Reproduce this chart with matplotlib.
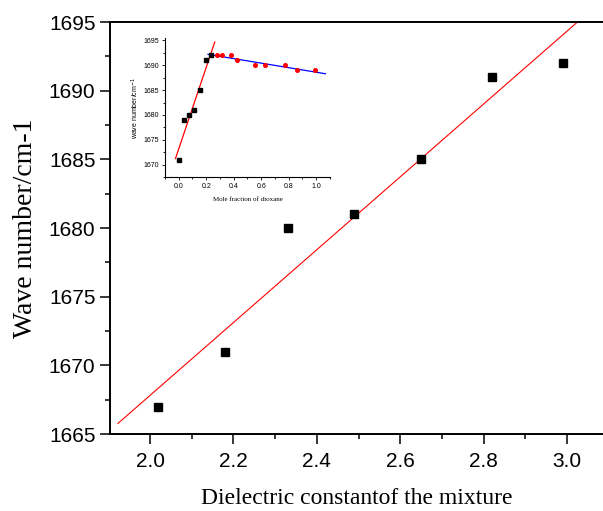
import numpy as np
import matplotlib
matplotlib.use("Agg")
import matplotlib.pyplot as plt
from matplotlib.ticker import MultipleLocator

# Main data
dielectric = [2.02, 2.18, 2.33, 2.49, 2.65, 2.82, 2.99]
wavenumber = [1667, 1671, 1680, 1681, 1685, 1691, 1692]

# Inset data
mole_frac_black = [0.0, 0.036, 0.073, 0.114, 0.153, 0.199, 0.238]
wn_black = [1671, 1679, 1680, 1681, 1685, 1691, 1692]
mole_frac_red = [0.281, 0.315, 0.383, 0.424, 0.553, 0.63, 0.776, 0.861, 0.989]
wn_red = [1692, 1692, 1692, 1691, 1690, 1690, 1690, 1689, 1689]
# inset fit lines
red_fit_x = [-0.024, 0.262]
red_fit_y = [1671.2, 1694.7]
blue_fit_x = [0.213, 1.067]
blue_fit_y = [1692.2, 1688.3]

W, H = 603, 511
fig = plt.figure(figsize=(W / 100, H / 100), dpi=100)

sans = ["Liberation Sans", "DejaVu Sans"]
serif = ["Liberation Serif", "DejaVu Serif"]

ax = fig.add_axes([110 / W, (H - 434) / H, (W - 110) / W, 412 / H])
ax.plot(dielectric, wavenumber, ls="none", marker="s", ms=5.8, color="black", zorder=3)
# linear fit through the main data
slope, intercept = np.polyfit(dielectric, wavenumber, 1)
fx = np.array([1.923, 3.09])
ax.plot(fx, slope * fx + intercept, color="red", lw=0.8, zorder=2)

ax.set_xlim(1.904, 3.086)
ax.set_ylim(1665, 1695)
ax.xaxis.set_major_locator(MultipleLocator(0.2))
ax.xaxis.set_minor_locator(MultipleLocator(0.1))
ax.yaxis.set_major_locator(MultipleLocator(5))
ax.yaxis.set_minor_locator(MultipleLocator(2.5))
ax.spines["right"].set_visible(False)
for s in ["left", "bottom", "top"]:
    ax.spines[s].set_linewidth(1.4)
ax.tick_params(which="major", direction="out", length=7, width=1.1, labelsize=15)
ax.tick_params(axis="x", which="major", pad=6)
ax.tick_params(axis="y", which="major", pad=3.5)
ax.tick_params(which="minor", direction="out", length=3.6, width=1.1)
ax.tick_params(top=False, right=False, which="both")
for lbl in ax.get_xticklabels() + ax.get_yticklabels():
    lbl.set_fontfamily(sans)
ax.set_xlabel("Dielectric constantof the mixture", fontfamily=serif, fontsize=17, labelpad=12)
ax.set_ylabel("Wave number/cm-1", fontfamily=serif, fontsize=20, labelpad=8)

# Inset
axi = fig.add_axes([165 / W, (H - 177) / H, 165 / W, 139 / H])
axi.plot(mole_frac_black, wn_black, ls="none", marker="s", ms=2.4, color="black", zorder=3)
axi.plot(mole_frac_red, wn_red, ls="none", marker="o", ms=2.6, color="red", zorder=3)
axi.plot(red_fit_x, red_fit_y, color="red", lw=0.9, zorder=2)
axi.plot(blue_fit_x, blue_fit_y, color="blue", lw=0.9, zorder=2)
axi.set_xlim(-0.1, 1.1)
axi.set_ylim(1667.5, 1695.5)
axi.xaxis.set_major_locator(MultipleLocator(0.2))
axi.xaxis.set_minor_locator(MultipleLocator(0.1))
axi.yaxis.set_major_locator(MultipleLocator(5))
axi.yaxis.set_minor_locator(MultipleLocator(2.5))
axi.spines["right"].set_visible(False)
axi.spines["top"].set_visible(False)
for s in ["left", "bottom"]:
    axi.spines[s].set_linewidth(0.8)
axi.tick_params(which="major", direction="out", length=2.5, width=0.6, labelsize=5, pad=1.5)
axi.tick_params(which="minor", direction="out", length=1.3, width=0.6)
for lbl in axi.get_xticklabels() + axi.get_yticklabels():
    lbl.set_fontfamily(sans)
axi.set_xlabel("Mole fraction of dioxane", fontfamily=serif, fontsize=5, labelpad=5)
axi.set_ylabel("wave number/cm$^{-1}$", fontfamily=sans, fontsize=5, labelpad=2)

fig.savefig("out.png", dpi=100)
